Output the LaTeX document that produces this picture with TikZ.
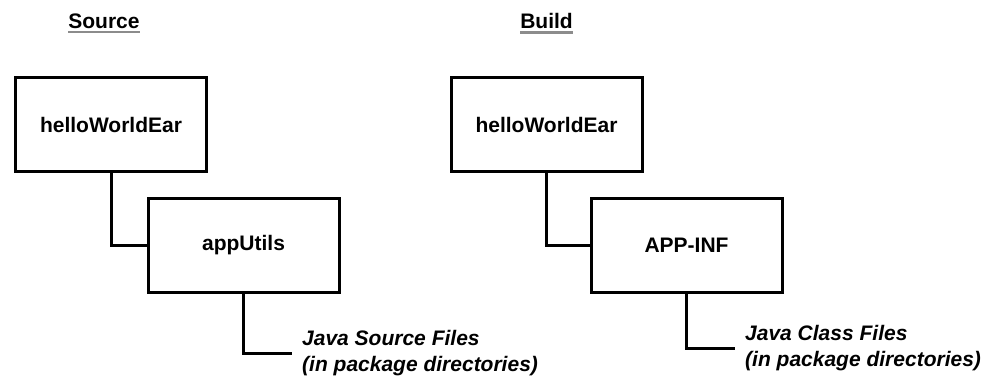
\documentclass[tikz,border=0pt]{standalone}
\usepackage{fontspec}
\setmainfont{Liberation Sans}
\usetikzlibrary{positioning}

\begin{document}
\begin{tikzpicture}[x=1pt,y=-1pt,
    dirbox/.style={draw,line width=3pt,minimum width=191pt,minimum height=94pt,font=\bfseries\fontsize{21}{25}\selectfont},
    notebox/.style={anchor=west,inner xsep=10pt,inner ysep=0pt,align=left,font=\bfseries\itshape\fontsize{21}{26}\selectfont},
    title/.style={inner sep=0pt,font=\bfseries\fontsize{21}{25}\selectfont},
    ulline/.style={draw=black!45,line width=2.5pt},
    wire/.style={draw,line width=3pt}
]
\useasboundingbox (0,0) rectangle (993,376);

\node[title] (src) at (104,21) {Source};
\node[title] (bld) at (546.5,21) {Build};
\draw[ulline] ([yshift=-3.5pt]src.south west) -- ([yshift=-3.5pt]src.south east);
\draw[ulline] ([yshift=-3.5pt]bld.south west) -- ([yshift=-3.5pt]bld.south east);

\node[dirbox] (srcear) at (111,124.5) {helloWorldEar};
\node[dirbox] (srcutil) at (243.5,245) {appUtils};
\node[dirbox] (bldear) at (546.5,124.5) {helloWorldEar};
\node[dirbox] (bldinf) at (686.5,245) {APP-INF};

\node[notebox] (srcfiles) at (292,353) {Java Source Files\\(in package directories)};
\node[notebox] (bldfiles) at (735,348) {Java Class Files\\(in package directories)};

\draw[wire] (srcear.south) |- (srcutil.west);
\draw[wire] (srcutil.south) |- (srcfiles.west);
\draw[wire] (bldear.south) |- (bldinf.west);
\draw[wire] (bldinf.south) |- (bldfiles.west);
\end{tikzpicture}
\end{document}
